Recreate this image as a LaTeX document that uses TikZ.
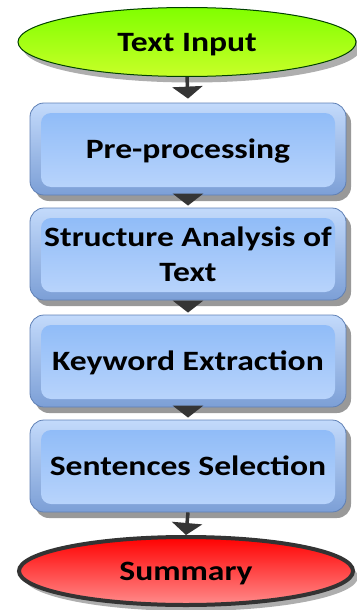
\documentclass[tikz,border=0pt]{standalone}
\usepackage{fontspec}
\setmainfont{Carlito}
\usetikzlibrary{shapes.geometric,shadows,arrows.meta}
\definecolor{rimtop}{HTML}{C3DAFB}
\definecolor{rimbot}{HTML}{7C9FD6}
\definecolor{intop}{HTML}{8BB9F7}
\definecolor{inbot}{HTML}{BCD6FC}
\definecolor{boxline}{HTML}{5F80B5}
\definecolor{arrowc}{HTML}{353535}
\newcommand{\widetext}[1]{\raisebox{-2.5pt}[\height][\depth]{\scalebox{1.2}[1.0]{\begin{tabular}{@{}c@{}}#1\end{tabular}}}}
\tikzset{
  x=1pt,y=-1pt,
  labelfont/.style={font=\bfseries\fontsize{28}{35}\selectfont},
  stepbox/.style={rectangle, rounded corners=14pt, minimum width=316pt, minimum height=92pt,
    draw=boxline, line width=0.8pt, top color=rimtop, bottom color=rimbot,
    drop shadow={shadow xshift=5pt, shadow yshift=-6pt, fill=black!50, opacity=0.8},
    labelfont, align=center,
    path picture={\shade[top color=intop, bottom color=inbot, rounded corners=10pt]
      ([shift={(11pt,-10pt)}]path picture bounding box.north west) rectangle
      ([shift={(-11pt,8pt)}]path picture bounding box.south east);}},
  flow/.style={draw=arrowc, line width=3.5pt, -{Triangle[width=30pt,length=12pt]}},
  startnode/.style={ellipse, minimum width=338pt, minimum height=69pt, inner sep=0pt,
    draw=black!75!green, line width=1pt, top color={rgb,255:red,128;green,255;blue,0}, bottom color={rgb,255:red,200;green,255;blue,40},
    drop shadow={shadow xshift=5pt, shadow yshift=-6pt, fill=black!45, opacity=0.7},
    labelfont},
  endnode/.style={ellipse, minimum width=334pt, minimum height=68pt, inner sep=0pt,
    draw=black!80, line width=4pt, top color={rgb,255:red,255;green,0;blue,0}, bottom color={rgb,255:red,255;green,140;blue,140},
    drop shadow={shadow xshift=5pt, shadow yshift=-6pt, fill=black!45, opacity=0.7},
    labelfont}
}
\begin{document}
\begin{tikzpicture}
\useasboundingbox (0,0) rectangle (356,610);
\node[startnode] (input) at (187,42) {\widetext{Text Input}};
\node[stepbox] (pre) at (188,149) {\widetext{Pre-processing}};
\node[stepbox] (struct) at (188,254) {\widetext{Structure Analysis of\\Text}};
\node[stepbox] (key) at (188,361) {\widetext{Keyword Extraction}};
\node[stepbox] (sel) at (188,466) {\widetext{Sentences Selection}};
\node[endnode] (sum) at (186,571) {\widetext{Summary}};
\draw[flow] (input.south) -- ([yshift=4pt]pre.north);
\draw[flow] ([yshift=-8pt]pre.south) -- ([yshift=2pt]struct.north);
\draw[flow] ([yshift=-8pt]struct.south) -- ([yshift=2pt]key.north);
\draw[flow] ([yshift=-8pt]key.south) -- ([yshift=2pt]sel.north);
\draw[flow] (sel.south) -- (sum.north);
\end{tikzpicture}
\end{document}
